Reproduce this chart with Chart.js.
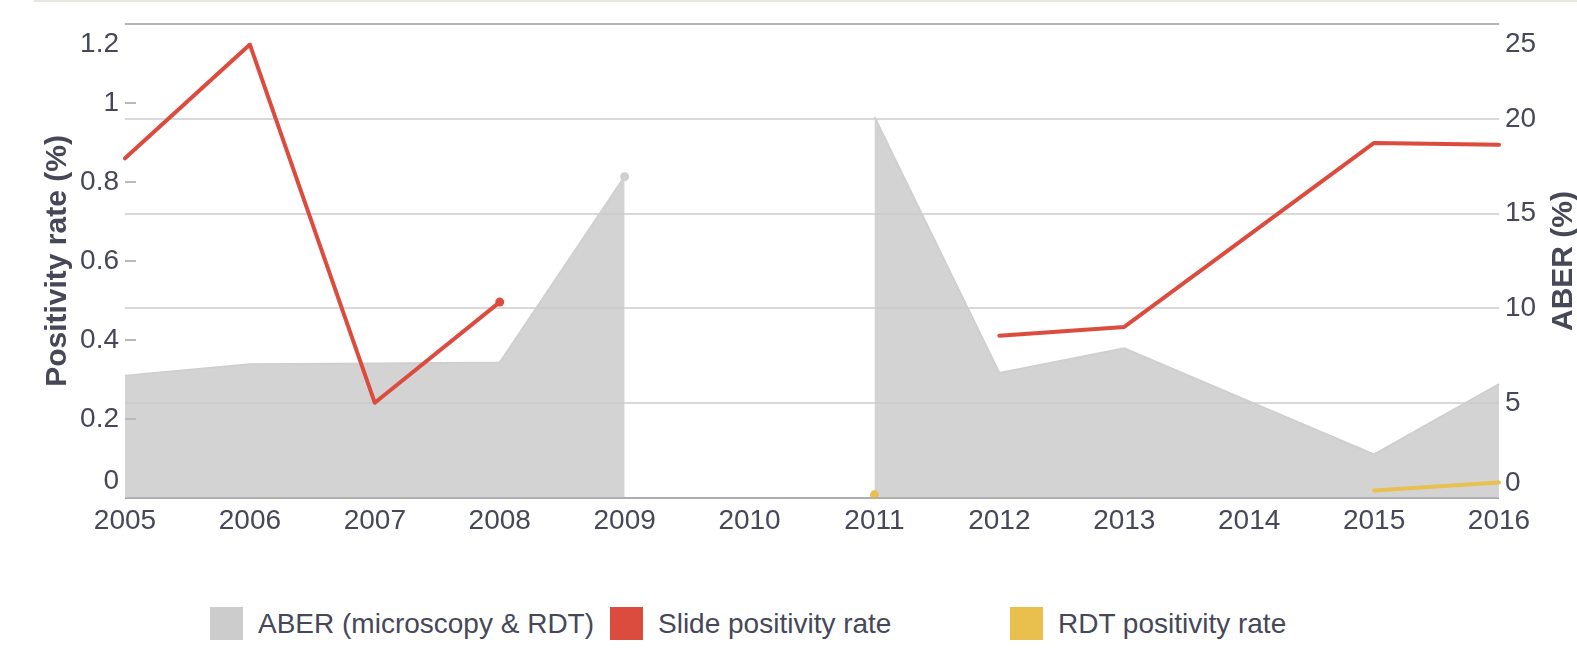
<!DOCTYPE html>
<html>
<head>
<meta charset="utf-8">
<script src="https://cdn.jsdelivr.net/npm/chart.js@4.4.1/dist/chart.umd.min.js"></script>
<style>
    html, body { margin: 0; padding: 0; background: #fff; }
    #wrap {
        position: relative;
        width: 1577px;
        height: 665px;
        overflow: hidden;
        font-family: "Liberation Sans", Arial, sans-serif;
        color: #464858;
    }
    #topline { position: absolute; left: 34px; right: 0; top: 0; height: 2px; background: #e8e8e3; }
    #chart { position: absolute; left: 0; top: 0; }
    .leg { position: absolute; top: 607px; height: 33px; display: flex; align-items: center; }
    .leg .box { width: 33px; height: 33px; margin-right: 15px; }
    .leg span { font-size: 28px; line-height: 33px; white-space: nowrap; }
</style>
</head>
<body>
<div id="wrap">
    <div id="topline"></div>
    <canvas id="chart" width="1577" height="560"></canvas>
    <div class="leg" style="left:210px"><div class="box" style="background:#cccccc"></div><span>ABER (microscopy &amp; RDT)</span></div>
    <div class="leg" style="left:610px"><div class="box" style="background:#dc4c3e"></div><span>Slide positivity rate</span></div>
    <div class="leg" style="left:1010px"><div class="box" style="background:#e9c04e"></div><span>RDT positivity rate</span></div>
</div>
<script>
// values
const years = ["2005", "2006", "2007", "2008", "2009", "2010", "2011", "2012", "2013", "2014", "2015", "2016"];
const aberValues = [6.45, 7.05, 7.1, 7.15, 16.95, null, 20.1, 6.6, 7.9, 5.1, 2.3, 6.0];
const slideValues = [0.86, 1.148, 0.241, 0.496, null, null, null, 0.411, 0.433, 0.666, 0.899, 0.894];
const rdtValues = [null, null, null, null, null, null, 0.008, null, null, null, 0.019, 0.039];

const TEXT = "#464858";
const FONT = "'Liberation Sans', Arial, sans-serif";

// a dot only where a segment stops before a gap
const dotRadius = (ctx) => {
    const d = ctx.dataset.data;
    const i = ctx.dataIndex;
    return d[i] !== null && i < d.length - 1 && d[i + 1] === null ? 4.5 : 0;
};

// edge labels (top and bottom) are nudged inward like in the original
const edgeFont = (top, bottom, shiftTop, shiftBottom) => (ctx) => {
    const v = ctx.tick ? ctx.tick.value : null;
    let lh = 1.2;
    if (v === top) lh = shiftTop * 2 + "px";
    if (v === bottom) lh = shiftBottom * 2 + "px";
    return { family: FONT, size: 28, lineHeight: lh };
};
const edgeLabel = (top, bottom) => (value) => {
    const txt = String(Number(value.toFixed(1)));
    if (value === top) return ["", txt];
    if (value === bottom) return [txt, ""];
    return txt;
};

const extras = {
    id: "extras",
    afterDatasetsDraw(chart) {
        const { ctx, chartArea, scales } = chart;
        // short inside tick marks for the left axis
        ctx.save();
        ctx.strokeStyle = "#b9b9b9";
        ctx.lineWidth = 2;
        scales.y.ticks.forEach(t => {
            if (t.value <= 0.01 || t.value >= 1.19) return;
            const y = Math.round(scales.y.getPixelForValue(t.value));
            ctx.beginPath();
            ctx.moveTo(chartArea.left, y);
            ctx.lineTo(chartArea.left + 11, y);
            ctx.stroke();
        });
        // zero line shows through the area
        const y0 = Math.round(scales.y1.getPixelForValue(0));
        ctx.strokeStyle = "rgba(170, 170, 170, 0.7)";
        ctx.beginPath();
        ctx.moveTo(chartArea.left, y0);
        ctx.lineTo(chartArea.right, y0);
        ctx.stroke();
        ctx.restore();

        // right axis title, reading upward
        ctx.save();
        ctx.translate(1564, (chartArea.top + chartArea.bottom) / 2);
        ctx.rotate(-Math.PI / 2);
        ctx.font = "bold 30px " + FONT;
        ctx.fillStyle = TEXT;
        ctx.textAlign = "center";
        ctx.textBaseline = "middle";
        ctx.fillText("ABER (%)", 0, 0);
        ctx.restore();
    }
};

const fixY = (width) => (s) => {
    s.width = width;
    s.paddingTop = 0;
    s.paddingBottom = 0;
};

new Chart(document.getElementById("chart"), {
    type: "line",
    data: {
        labels: years,
        datasets: [
            {
                label: "RDT positivity rate",
                data: rdtValues,
                yAxisID: "y",
                borderColor: "#e9c04e",
                backgroundColor: "#e9c04e",
                pointBackgroundColor: "#e9c04e",
                borderWidth: 4,
                borderCapStyle: "round",
                pointRadius: dotRadius,
                pointBorderWidth: 0,
                fill: false,
                spanGaps: false,
                clip: false,
                order: 0
            },
            {
                label: "Slide positivity rate",
                data: slideValues,
                yAxisID: "y",
                borderColor: "#dc4c3e",
                backgroundColor: "#dc4c3e",
                pointBackgroundColor: "#dc4c3e",
                borderWidth: 4,
                borderCapStyle: "round",
                borderJoinStyle: "round",
                pointRadius: dotRadius,
                pointBorderWidth: 0,
                fill: false,
                spanGaps: false,
                order: 1
            },
            {
                label: "ABER (microscopy & RDT)",
                data: aberValues,
                yAxisID: "y1",
                borderColor: "#cfcfcf",
                backgroundColor: "rgba(200, 200, 200, 0.8)",
                pointBackgroundColor: "#cfcfcf",
                borderWidth: 2,
                pointRadius: dotRadius,
                pointBorderWidth: 0,
                fill: "origin",
                spanGaps: false,
                order: 3
            }
        ]
    },
    options: {
        responsive: false,
        animation: false,
        events: [],
        layout: { padding: { top: 24, left: 0, right: 0, bottom: 0 } },
        plugins: {
            legend: { display: false },
            tooltip: { enabled: false }
        },
        scales: {
            x: {
                offset: false,
                grid: { display: false, drawTicks: false },
                border: { display: false },
                ticks: {
                    autoSkip: false,
                    maxRotation: 0,
                    padding: 6,
                    color: TEXT,
                    font: { family: FONT, size: 28 }
                },
                afterFit: (s) => { s.height = 62; }
            },
            y: {
                position: "left",
                min: 0,
                max: 1.2,
                grid: { display: false, drawTicks: false },
                border: { display: false },
                ticks: {
                    stepSize: 0.2,
                    autoSkip: false,
                    padding: 6,
                    color: TEXT,
                    font: edgeFont(1.2, 0, 20, 17),
                    callback: edgeLabel(1.2, 0)
                },
                title: {
                    display: true,
                    text: "Positivity rate (%)",
                    color: TEXT,
                    font: { family: FONT, size: 30, weight: "bold" },
                    padding: { top: 40, bottom: 0 }
                },
                afterFit: fixY(125)
            },
            y1: {
                position: "right",
                min: 0,
                max: 25,
                grid: {
                    drawTicks: false,
                    lineWidth: 2,
                    color: (ctx) => (ctx.tick && (ctx.tick.value === 0 || ctx.tick.value === 25)) ? "#b4b4b4" : "#d9d9d9"
                },
                border: { display: false },
                ticks: {
                    stepSize: 5,
                    autoSkip: false,
                    padding: 6,
                    color: TEXT,
                    font: edgeFont(25, 0, 20, 15),
                    callback: edgeLabel(25, 0)
                },
                afterFit: fixY(78)
            }
        }
    },
    plugins: [extras]
});
</script>
</body>
</html>
